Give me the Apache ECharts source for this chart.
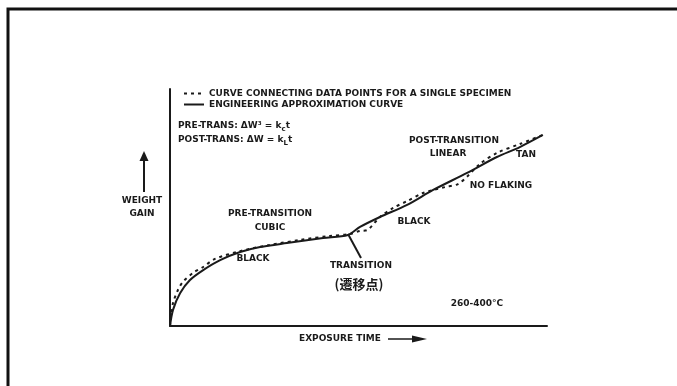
<!DOCTYPE html>
<html>
<head>
<meta charset="utf-8">
<script src="https://cdn.jsdelivr.net/npm/echarts@6/dist/echarts.min.js"></script>
<style>
  html, body { margin: 0; padding: 0; background: #fff; }
  #chart { width: 677px; height: 386px; }
</style>
</head>
<body>
<div id="chart"></div>
<script>
// exposure time (arbitrary units, 0-100) and weight gain (arbitrary units, 0-100)
const specimenTime = [0, 0.3, 0.8, 2.1, 3.4, 6.1, 8.8, 11.9, 18.6, 26.5, 34.5, 42.4, 47.7, 50.4, 52.3, 55.7, 59.2, 62.9, 67.1, 69.8, 72.9, 76.4, 79.0, 82.2, 86.7, 92.8, 98.9];
const specimenGain = [0, 4.6, 9.7, 15.2, 18.6, 22.4, 24.9, 28.3, 31.6, 34.2, 36.3, 38.0, 38.8, 40.1, 40.5, 46.0, 49.8, 52.7, 56.1, 57.4, 58.6, 59.9, 63.3, 68.4, 73.0, 76.8, 80.6];

const approxTime = [0, 0.8, 2.7, 5.3, 8.8, 13.3, 18.6, 23.9, 31.0, 40.6, 47.2, 50.4, 55.7, 62.9, 69.8, 78.8, 86.7, 92.8, 98.9];
const approxGain = [0, 6.8, 13.9, 19.4, 23.6, 27.8, 31.2, 33.3, 35.0, 37.1, 38.4, 41.8, 46.0, 51.1, 57.4, 64.6, 71.3, 75.5, 80.6];

const seriesNames = ['CURVE CONNECTING DATA POINTS FOR A SINGLE SPECIMEN', 'ENGINEERING APPROXIMATION CURVE'];

const ink = '#1a1a1a';
const font = 'DejaVu Sans';
const bold9 = 'bold 9px "' + font + '"';

const chart = echarts.init(document.getElementById('chart'));

// centred annotation text at (x, y)
function label(text, x, y, align) {
  return {
    type: 'text', x: x, y: y,
    style: { text: text, fill: ink, font: bold9, align: align || 'center', verticalAlign: 'middle' }
  };
}

const subRich = { s: { fontSize: 7, fontWeight: 'bold', fontFamily: font, fill: ink, padding: [6, 0, 0, 0] } };

const option = {
  backgroundColor: '#fff',
  animation: false,
  grid: { left: 170, right: 130, top: 89, bottom: 60 },
  xAxis: {
    type: 'value', min: 0, max: 100,
    axisLine: { show: true, lineStyle: { color: ink, width: 2 } },
    axisTick: { show: false }, axisLabel: { show: false }, splitLine: { show: false }
  },
  yAxis: {
    type: 'value', min: 0, max: 100,
    axisLine: { show: true, lineStyle: { color: ink, width: 2 } },
    axisTick: { show: false }, axisLabel: { show: false }, splitLine: { show: false }
  },
  legend: {
    orient: 'vertical', left: 178, top: 84,
    itemWidth: 20, itemHeight: 8, itemGap: 2,
    itemStyle: { opacity: 0 },
    textStyle: { color: ink, fontFamily: font, fontWeight: 'bold', fontSize: 9 },
    data: seriesNames
  },
  series: [
    {
      name: seriesNames[0], type: 'line', smooth: 0.3, symbol: 'none',
      itemStyle: { color: ink },
      lineStyle: { color: ink, width: 2, type: [3, 4] },
      data: specimenTime.map((t, i) => [t, specimenGain[i]])
    },
    {
      name: seriesNames[1], type: 'line', smooth: 0.3, symbol: 'none',
      itemStyle: { color: ink },
      lineStyle: { color: ink, width: 2 },
      data: approxTime.map((t, i) => [t, approxGain[i]])
    }
  ],
  graphic: [
    // frame
    { type: 'rect', shape: { x: 8, y: 9, width: 720, height: 420 }, style: { fill: 'none', stroke: '#111', lineWidth: 3 } },
    // rate laws
    {
      type: 'text', x: 178, y: 126,
      style: { text: 'PRE-TRANS: ΔW³ = k{s|c}t', fill: ink, font: bold9, verticalAlign: 'middle', rich: subRich }
    },
    {
      type: 'text', x: 178, y: 140,
      style: { text: 'POST-TRANS: ΔW = k{s|L}t', fill: ink, font: bold9, verticalAlign: 'middle', rich: subRich }
    },
    // weight gain arrow
    { type: 'line', shape: { x1: 144, y1: 156, x2: 144, y2: 192 }, style: { stroke: ink, lineWidth: 2 } },
    { type: 'polygon', shape: { points: [[139.5, 161], [144, 151], [148.5, 161]] }, style: { fill: ink } },
    label('WEIGHT', 142, 201),
    label('GAIN', 142, 214),
    // exposure time arrow
    label('EXPOSURE TIME', 299, 339, 'left'),
    { type: 'line', shape: { x1: 388, y1: 339, x2: 418, y2: 339 }, style: { stroke: ink, lineWidth: 1.5 } },
    { type: 'polygon', shape: { points: [[412, 335.5], [427, 339], [412, 342.5]] }, style: { fill: ink } },
    // annotations
    label('PRE-TRANSITION', 270, 214),
    label('CUBIC', 270, 228),
    label('BLACK', 253, 259),
    { type: 'line', shape: { x1: 348, y1: 234, x2: 361, y2: 258 }, style: { stroke: ink, lineWidth: 2 } },
    label('TRANSITION', 361, 266),
    {
      type: 'text', x: 359, y: 284,
      style: { text: '(遷移点)', fill: ink, font: 'bold 13px "Noto Sans CJK JP"', align: 'center', verticalAlign: 'middle' }
    },
    label('BLACK', 414, 222),
    label('NO FLAKING', 501, 186),
    label('POST-TRANSITION', 454, 141),
    label('LINEAR', 448, 154),
    label('TAN', 526, 155),
    label('260-400°C', 477, 304)
  ]
};

chart.setOption(option);
</script>
</body>
</html>
